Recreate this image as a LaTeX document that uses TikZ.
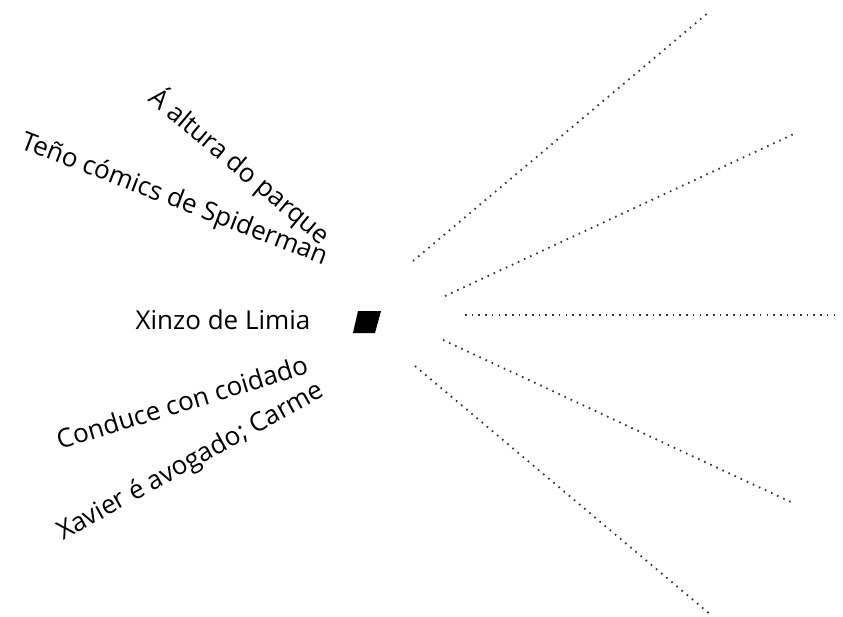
\documentclass[tikz,border=0pt]{standalone}
\usepackage{fontspec}
\setmainfont{Open Sans}
\begin{document}
\begin{tikzpicture}[x=1pt,y=-1pt,
  lbl/.style={font=\fontsize{26}{30}\selectfont, inner sep=0pt, anchor=center},
  dotline/.style={line width=1.8pt, dash pattern=on 1.6pt off 5.1pt, black!80}]
\useasboundingbox (0,0) rectangle (843,616);
\node[lbl, rotate=-40] (t1) at (240,166) {Á altura do parque};
\node[lbl, rotate=-21] (t2) at (174,200) {Teño cómics de Spiderman};
\node[lbl] (t3) at (223,320) {Xinzo de Limia};
\node[lbl, rotate=17] (t4) at (182,402) {Conduce con coidado};
\node[lbl, rotate=29] (t5) at (191,462) {Xavier é avogado; Carme};
\fill[black] (358,311) coordinate (p1) -- (381,311) -- (375,333) -- (353,333) -- cycle;
\coordinate (a1) at (413,261); \coordinate (b1) at (709,12);
\coordinate (a2) at (445,296); \coordinate (b2) at (796,133);
\coordinate (a3) at (465,315); \coordinate (b3) at (838,315);
\coordinate (a4) at (443,340); \coordinate (b4) at (793,503);
\coordinate (a5) at (415,366); \coordinate (b5) at (711,615);
\foreach \i in {1,...,5} \draw[dotline] (a\i) -- (b\i);
\end{tikzpicture}
\end{document}
